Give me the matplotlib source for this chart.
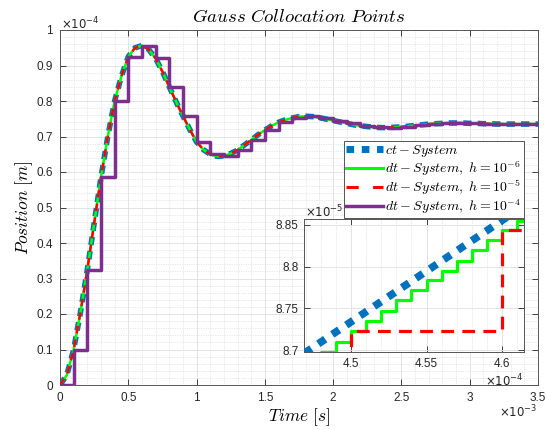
import numpy as np
import matplotlib
matplotlib.use('Agg')
import matplotlib.pyplot as plt
from matplotlib.ticker import FixedLocator, FuncFormatter
from matplotlib.lines import Line2D

plt.rcParams['font.family'] = ['Liberation Sans', 'DejaVu Sans']
plt.rcParams['mathtext.fontset'] = 'cm'

# ---------------- data ----------------
# continuous-time response, sampled every 0.05 ms, position in 1e-4 m
ct_dt_ms = 0.05
ct_pos = [0.000, 0.028, 0.100, 0.205, 0.325, 0.455, 0.585, 0.700, 0.800, 0.870,
          0.925, 0.950, 0.956, 0.945, 0.920, 0.883, 0.840, 0.798, 0.758, 0.720,
          0.685, 0.663, 0.650, 0.644, 0.645, 0.652, 0.662, 0.676, 0.690, 0.705,
          0.718, 0.730, 0.740, 0.747, 0.752, 0.756, 0.757, 0.756, 0.753, 0.749,
          0.745, 0.741, 0.737, 0.733, 0.730, 0.728, 0.726, 0.725, 0.725, 0.726,
          0.727, 0.729, 0.731, 0.733, 0.735, 0.736, 0.737, 0.738, 0.738, 0.738,
          0.737, 0.737, 0.736, 0.736, 0.735, 0.735, 0.735, 0.735, 0.735, 0.735,
          0.735]
# h = 1e-6 and h = 1e-5 responses: indistinguishable from ct at this scale
dt6_pos = list(ct_pos)
dt5_pos = list(ct_pos)
# h = 1e-4 response (zero-order hold), one value per 0.1 ms, in 1e-4 m
dt4_h_ms = 0.1
dt4_pos = [0.000, 0.100, 0.325, 0.585, 0.800, 0.925, 0.956, 0.920, 0.840, 0.758,
           0.685, 0.650, 0.645, 0.662, 0.690, 0.718, 0.740, 0.752, 0.757, 0.753,
           0.745, 0.737, 0.730, 0.726, 0.725, 0.727, 0.731, 0.735, 0.737, 0.738,
           0.737, 0.736, 0.735, 0.735, 0.735]

# inset (zoom): time in 1e-4 s, position in 1e-5 m
ins_ct_t = [4.46, 4.62]
ins_ct_pos = [8.6856, 8.8793]
ins_dt6_t = [4.47, 4.48, 4.49, 4.50, 4.51, 4.52, 4.53, 4.54, 4.55, 4.56,
             4.57, 4.58, 4.59, 4.60, 4.61, 4.62]
ins_dt6_pos = [8.6867, 8.6986, 8.7105, 8.7232, 8.7351, 8.7474, 8.7601, 8.7720,
               8.7839, 8.7946, 8.8065, 8.8196, 8.8315, 8.8435, 8.8542, 8.8542]
ins_dt5_t = [4.40, 4.50, 4.60, 4.70]
ins_dt5_pos = [8.600, 8.7236, 8.8435, 8.8435]

main_xticks = [0, 0.5, 1, 1.5, 2, 2.5, 3, 3.5]          # x 1e-3 s
main_yticks = [0, 0.1, 0.2, 0.3, 0.4, 0.5, 0.6, 0.7, 0.8, 0.9, 1]  # x 1e-4 m
ins_xticks = [4.5, 4.55, 4.6]      # x 1e-4 s
ins_yticks = [8.7, 8.75, 8.8, 8.85]  # x 1e-5 m

labels = [r'$ct - System$', r'$dt - System,\ h = 10^{-6}$',
          r'$dt - System,\ h = 10^{-5}$', r'$dt - System,\ h = 10^{-4}$']

C_BLUE = '#0072BD'
C_GREEN = '#00FF00'
C_RED = '#FF0000'
C_PURPLE = '#7E2F8E'
C_AX = '#262626'

# ---------------- figure ----------------
W, H = 549, 430
fig = plt.figure(figsize=(W / 100, H / 100), dpi=100)

def px_axes(l, t, r, b):
    return [l / W, 1 - b / H, (r - l) / W, (b - t) / H]

ax = fig.add_axes(px_axes(60, 30, 538, 385))

t_ct = np.arange(len(ct_pos)) * ct_dt_ms * 1e-3
y_ct = np.array(ct_pos) * 1e-4
t_dt4 = np.arange(len(dt4_pos) + 1) * dt4_h_ms * 1e-3
y_dt4 = np.array(dt4_pos + [dt4_pos[-1]]) * 1e-4

ax.plot(t_ct, y_ct, color=C_BLUE, lw=4.0, linestyle=(0, (1.5, 1.1)), zorder=3)
ax.plot(t_ct, np.array(dt6_pos) * 1e-4, color=C_GREEN, lw=1.8, zorder=4)
ax.plot(t_ct, np.array(dt5_pos) * 1e-4, color=C_RED, lw=1.8,
        linestyle=(0, (3.0, 2.5)), zorder=5)
ax.step(t_dt4, y_dt4, where='post', color=C_PURPLE, lw=2.5, zorder=6)

ax.set_xlim(0, 3.5e-3)
ax.set_ylim(0, 1e-4)

def style_axes(a, xt, yt, xs, ys, xminor, yminor, fs):
    a.xaxis.set_major_locator(FixedLocator([v * xs for v in xt]))
    a.yaxis.set_major_locator(FixedLocator([v * ys for v in yt]))
    a.xaxis.set_major_formatter(FuncFormatter(lambda v, p: f'{v / xs:g}'))
    a.yaxis.set_major_formatter(FuncFormatter(lambda v, p: f'{v / ys:g}'))
    a.xaxis.set_minor_locator(FixedLocator(xminor))
    a.yaxis.set_minor_locator(FixedLocator(yminor))
    a.tick_params(which='major', direction='in', length=4, width=0.6,
                  colors=C_AX, labelsize=fs, top=True, right=True, pad=5)
    a.tick_params(which='minor', length=0, top=True, right=True)
    a.grid(which='major', color='#dedede', lw=0.6)
    a.grid(which='minor', color='#d4d4d4', lw=0.5, linestyle=(0, (1, 1.5)))
    a.set_axisbelow(True)
    for s in a.spines.values():
        s.set_color('#555555')
        s.set_linewidth(0.7)
    for lab in a.get_xticklabels() + a.get_yticklabels():
        lab.set_color(C_AX)

style_axes(ax, main_xticks, main_yticks, 1e-3, 1e-4,
           np.arange(0, 36) * 1e-4, np.arange(0, 51) * 0.02e-4, 8.5)

ax.set_title(r'$Gauss\ Collocation\ Points$', fontsize=13.5, pad=6, color='black')
ax.set_xlabel(r'$Time\ [s]$', fontsize=12.5, labelpad=2)
ax.set_ylabel(r'$Position\ [m]$', fontsize=12.5, labelpad=1)

fig.text(61 / W, 1 - 24 / H, r'$\times10^{-4}$', fontsize=8.5, color=C_AX,
         math_fontfamily='dejavusans', ha='left', va='center')
fig.text(537 / W, 1 - 412 / H, r'$\times10^{-3}$', fontsize=8.5, color=C_AX,
         math_fontfamily='dejavusans', ha='right', va='center')

# legend with proxy handles
handles = [
    Line2D([], [], color=C_BLUE, lw=5.0, linestyle=(0, (1.1, 1.1))),
    Line2D([], [], color=C_GREEN, lw=2.2),
    Line2D([], [], color=C_RED, lw=2.2, linestyle=(0, (4.0, 4.7))),
    Line2D([], [], color=C_PURPLE, lw=2.5),
]
leg = ax.legend(handles, labels, loc='upper right',
                bbox_to_anchor=(523.5 / W, 1 - 141 / H),
                bbox_transform=fig.transFigure, fontsize=10, frameon=True,
                fancybox=False, framealpha=1, edgecolor='#555555',
                borderpad=0.15, labelspacing=0.0, handlelength=2.6,
                handletextpad=0.2, borderaxespad=0)
leg.get_frame().set_linewidth(0.7)
leg.set_zorder(20)

# ---------------- inset ----------------
ax2 = fig.add_axes(px_axes(304.3, 219.3, 523.5, 352))
ax2.set_zorder(25)
ax2.plot(np.array(ins_ct_t) * 1e-4, np.array(ins_ct_pos) * 1e-5, color=C_BLUE,
         lw=5.5, linestyle=(0, (1.1, 1.1)), zorder=3)
ax2.step(np.array(ins_dt6_t) * 1e-4, np.array(ins_dt6_pos) * 1e-5, where='post',
         color=C_GREEN, lw=2.3, zorder=4)
ax2.step(np.array(ins_dt5_t) * 1e-4, np.array(ins_dt5_pos) * 1e-5, where='post',
         color=C_RED, lw=2.3, linestyle=(0, (4.0, 2.6)), zorder=5)
ax2.set_xlim(4.4692e-4, 4.614e-4)
ax2.set_ylim(8.6982e-5, 8.8562e-5)
style_axes(ax2, ins_xticks, ins_yticks, 1e-4, 1e-5,
           np.arange(446, 463) * 1e-6, np.arange(869, 887) * 1e-8, 8.5)
ax2.tick_params(which='major', pad=4)
fig.text(305 / W, 1 - 212 / H, r'$\times10^{-5}$', fontsize=8.5, color=C_AX,
         math_fontfamily='dejavusans', ha='left', va='center', zorder=30)
fig.text(524 / W, 1 - 381 / H, r'$\times10^{-4}$', fontsize=8.5, color=C_AX,
         math_fontfamily='dejavusans', ha='right', va='center', zorder=30)

fig.savefig('out.png', dpi=100)
